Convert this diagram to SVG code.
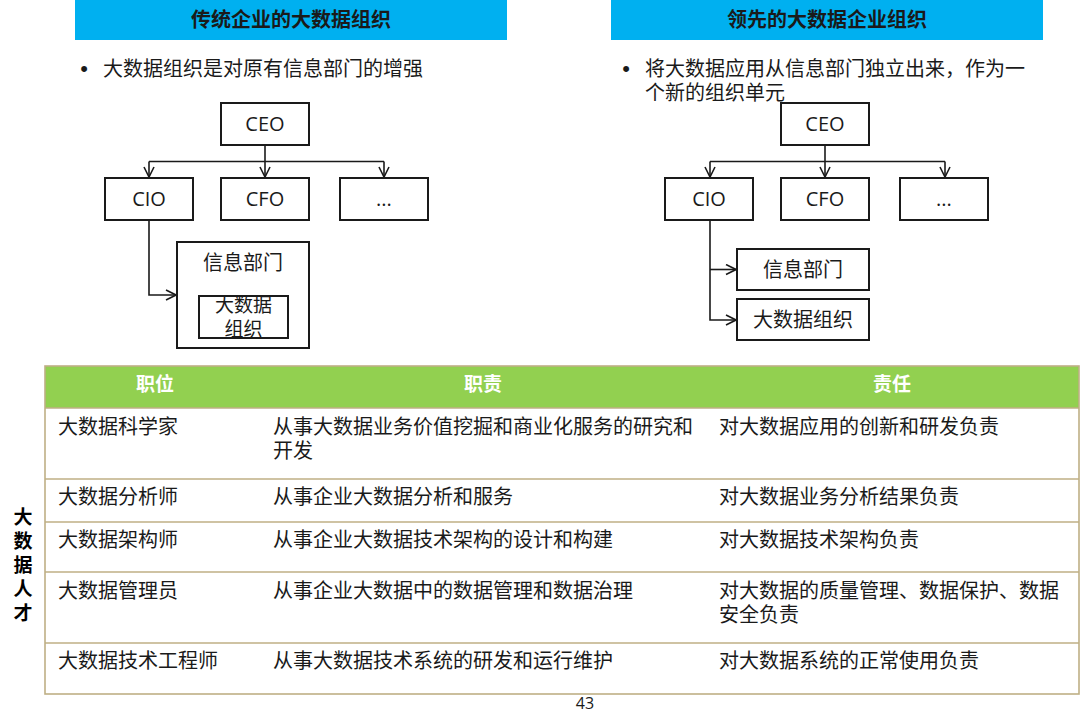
<svg xmlns="http://www.w3.org/2000/svg" width="1080" height="724" viewBox="0 0 1080 724">
<style>
.hdr{fill:#00B0F0}
.ht{font-family:"Noto Sans CJK SC",sans-serif;font-size:20px;font-weight:bold;fill:#1a1a1a;text-anchor:middle}
.bt{font-family:"Noto Sans CJK SC",sans-serif;font-size:20px;fill:#1a1a1a}
.dot{font-family:"Liberation Sans",sans-serif;font-size:22px;fill:#1a1a1a;text-anchor:middle}
.box{fill:#fff;stroke:#1a1a1a;stroke-width:2}
.lt{font-family:"Open Sans","Noto Sans CJK SC",sans-serif;font-size:20px;fill:#1a1a1a;text-anchor:middle}
.ct{font-family:"Noto Sans CJK SC",sans-serif;font-size:20px;fill:#1a1a1a;text-anchor:middle}
.cs{font-family:"Noto Sans CJK SC",sans-serif;font-size:19px;fill:#1a1a1a;text-anchor:middle}
.con{fill:none;stroke:#1a1a1a;stroke-width:1.6}
.th{font-family:"Noto Sans CJK SC",sans-serif;font-size:19px;font-weight:bold;fill:#fff;text-anchor:middle}
.td{font-family:"Noto Sans CJK SC",sans-serif;font-size:20px;fill:#1a1a1a}
.grid{stroke:#BFAF85;stroke-width:1.6}
.vt{font-family:"Noto Sans CJK SC",sans-serif;font-size:19px;font-weight:bold;fill:#000;text-anchor:middle}
</style>
<defs>
<marker id="arr" viewBox="0 0 12 12" refX="11" refY="6" markerWidth="12" markerHeight="12" markerUnits="userSpaceOnUse" orient="auto">
<path d="M1,1 L11,6 L1,11" fill="none" stroke="#1a1a1a" stroke-width="1.6"/>
</marker>
</defs>
<rect width="1080" height="724" fill="#fff"/>

<g id="header-left">
<rect class="hdr" x="75" y="0" width="432" height="40"/>
<text class="ht" x="291" y="27">传统企业的大数据组织</text>
</g>
<g id="header-right">
<rect class="hdr" x="611" y="0" width="432" height="40"/>
<text class="ht" x="827" y="27">领先的大数据企业组织</text>
</g>

<g id="bullet-left">
<text class="dot" x="84" y="76">•</text>
<text class="bt" x="103" y="76">大数据组织是对原有信息部门的增强</text>
</g>
<g id="bullet-right">
<text class="dot" x="626" y="76">•</text>
<text class="bt" x="645" y="76">将大数据应用从信息部门独立出来，作为一<tspan x="645" y="100">个新的组织单元</tspan></text>
</g>

<g id="connectors">
<path class="con" d="M265,145 V177" marker-end="url(#arr)"/>
<path class="con" d="M149,161.5 H384"/>
<path class="con" d="M149,161.5 V177" marker-end="url(#arr)"/>
<path class="con" d="M384,161.5 V177" marker-end="url(#arr)"/>
<path class="con" d="M149,220 V295 H176" marker-end="url(#arr)"/>
<path class="con" d="M825,145 V177" marker-end="url(#arr)"/>
<path class="con" d="M710,161.5 H945"/>
<path class="con" d="M710,161.5 V177" marker-end="url(#arr)"/>
<path class="con" d="M945,161.5 V177" marker-end="url(#arr)"/>
<path class="con" d="M710,220 V320 H736" marker-end="url(#arr)"/>
<path class="con" d="M710,269.5 H736" marker-end="url(#arr)"/>
</g>

<g id="l-ceo"><rect class="box" x="221" y="103" width="88" height="42"/><text class="lt" x="265" y="131">CEO</text></g>
<g id="l-cio"><rect class="box" x="105" y="178" width="88" height="42"/><text class="lt" x="149" y="206">CIO</text></g>
<g id="l-cfo"><rect class="box" x="221" y="178" width="88" height="42"/><text class="lt" x="265" y="206">CFO</text></g>
<g id="l-etc"><rect class="box" x="340" y="178" width="88" height="42"/><text class="lt" x="384" y="206">...</text></g>
<g id="l-info"><rect class="box" x="177" y="242" width="132" height="106"/><text class="ct" x="243" y="270">信息部门</text></g>
<g id="l-bigdata"><rect class="box" x="199" y="296" width="89" height="42"/><text class="cs" x="243.5" y="312">大数据<tspan x="243.5" y="336">组织</tspan></text></g>

<g id="r-ceo"><rect class="box" x="781" y="103" width="88" height="42"/><text class="lt" x="825" y="131">CEO</text></g>
<g id="r-cio"><rect class="box" x="665" y="178" width="88" height="42"/><text class="lt" x="709" y="206">CIO</text></g>
<g id="r-cfo"><rect class="box" x="781" y="178" width="88" height="42"/><text class="lt" x="825" y="206">CFO</text></g>
<g id="r-etc"><rect class="box" x="900" y="178" width="88" height="42"/><text class="lt" x="944" y="206">...</text></g>
<g id="r-info"><rect class="box" x="737" y="249" width="132" height="41"/><text class="ct" x="803" y="277">信息部门</text></g>
<g id="r-bigdata"><rect class="box" x="737" y="299" width="132" height="41"/><text class="ct" x="803" y="327">大数据组织</text></g>

<g id="table">
<rect x="45" y="366" width="1034" height="42" fill="#92D050"/>
<rect x="45" y="366" width="1034" height="328" fill="none" class="grid"/>
<line class="grid" x1="45" y1="408" x2="1079" y2="408"/>
<line class="grid" x1="45" y1="479" x2="1079" y2="479"/>
<line class="grid" x1="45" y1="522" x2="1079" y2="522"/>
<line class="grid" x1="45" y1="572" x2="1079" y2="572"/>
<line class="grid" x1="45" y1="643" x2="1079" y2="643"/>
<text class="th" x="155" y="391">职位</text>
<text class="th" x="483" y="391">职责</text>
<text class="th" x="892" y="391">责任</text>

<text class="td" x="58" y="434">大数据科学家</text>
<text class="td" x="273" y="434">从事大数据业务价值挖掘和商业化服务的研究和<tspan x="273" y="458">开发</tspan></text>
<text class="td" x="719" y="434">对大数据应用的创新和研发负责</text>

<text class="td" x="58" y="504">大数据分析师</text>
<text class="td" x="273" y="504">从事企业大数据分析和服务</text>
<text class="td" x="719" y="504">对大数据业务分析结果负责</text>

<text class="td" x="58" y="547">大数据架构师</text>
<text class="td" x="273" y="547">从事企业大数据技术架构的设计和构建</text>
<text class="td" x="719" y="547">对大数据技术架构负责</text>

<text class="td" x="58" y="598">大数据管理员</text>
<text class="td" x="273" y="598">从事企业大数据中的数据管理和数据治理</text>
<text class="td" x="719" y="598">对大数据的质量管理、数据保护、数据<tspan x="719" y="622">安全负责</tspan></text>

<text class="td" x="58" y="668">大数据技术工程师</text>
<text class="td" x="273" y="668">从事大数据技术系统的研发和运行维护</text>
<text class="td" x="719" y="668">对大数据系统的正常使用负责</text>
</g>

<g id="side-label">
<text class="vt" x="23" y="524">大<tspan x="23" y="548">数</tspan><tspan x="23" y="572">据</tspan><tspan x="23" y="596">人</tspan><tspan x="23" y="620">才</tspan></text>
</g>

<text x="585" y="709" font-family="Open Sans,sans-serif" font-size="16" fill="#1a1a1a" text-anchor="middle">43</text>
</svg>
